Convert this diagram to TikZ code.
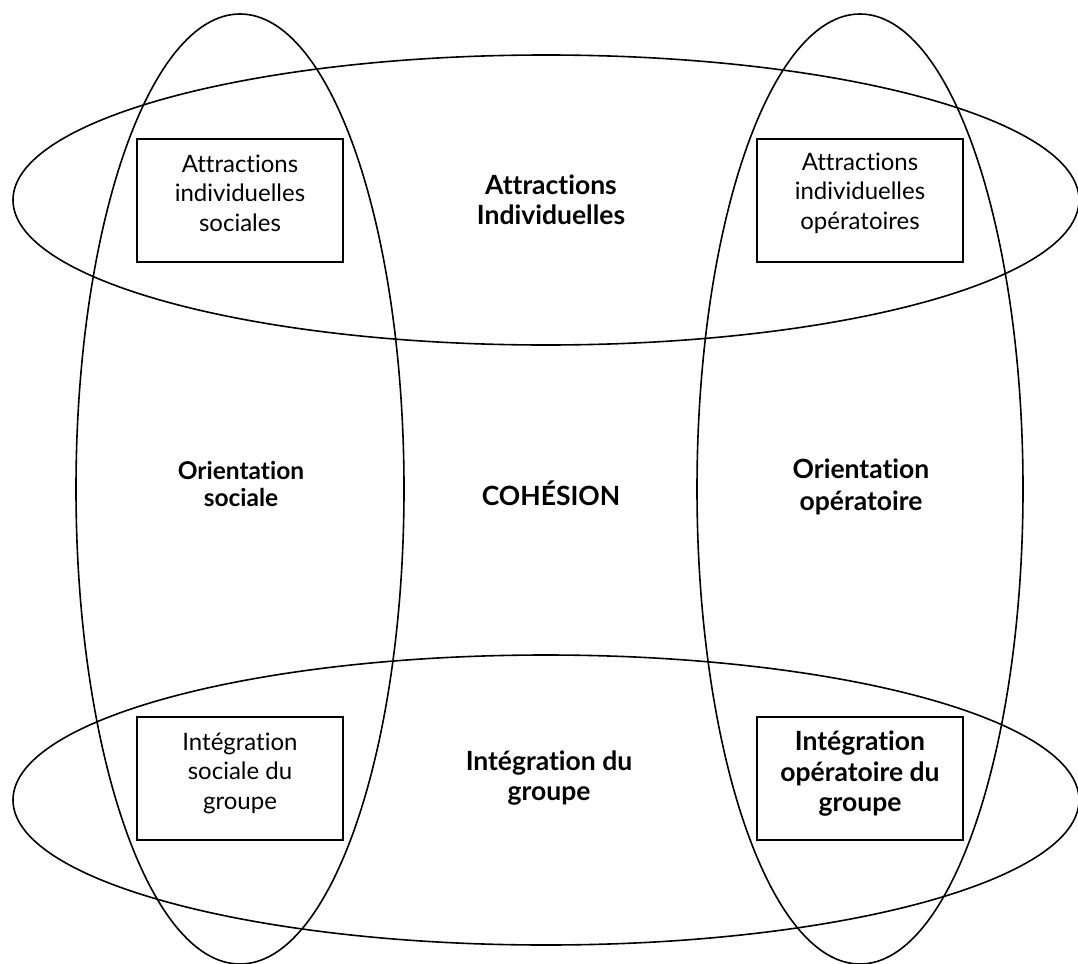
\documentclass[tikz,border=0pt]{standalone}
\usepackage{fontspec}
\setmainfont{Lato}[Ligatures={NoCommon}]
\usetikzlibrary{shapes.geometric}
\begin{document}
\begin{tikzpicture}[x=1pt,y=-1pt,
  ell/.style={draw, ellipse, line width=1.6pt, inner sep=0pt, outer sep=0pt},
  box/.style={draw, rectangle, line width=1.3pt, minimum width=206pt, minimum height=123pt, inner sep=0pt},
  txt/.style={align=center, inner sep=0pt, font=\fontsize{24}{29.5}\selectfont},
  btxt/.style={align=center, inner sep=0pt, font=\fontsize{26.5}{30.5}\selectfont\bfseries},
  sbtxt/.style={align=center, inner sep=0pt, font=\fontsize{24.5}{27.5}\selectfont\bfseries}]
\useasboundingbox (0,0) rectangle (1078,963);
% ellipses
\node[ell, minimum width=328pt, minimum height=950pt] (vleft) at (240,489) {};
\node[ell, minimum width=326pt, minimum height=950pt] (vright) at (860,489) {};
\node[ell, minimum width=1066pt, minimum height=290pt] (htop) at (546,200) {};
\node[ell, minimum width=1066pt, minimum height=290pt] (hbot) at (546,800) {};
% boxes
\node[box] (b1) at (240,200.5) {};
\node[box] (b2) at (860,200.5) {};
\node[box] (b3) at (240,778.5) {};
\node[box] (b4) at (860,778.5) {};
\node[txt] (b1t) at (240,193) {Attractions\\individuelles\\sociales};
\node[txt] (b2t) at (860,193) {Attractions\\individuelles\\opératoires};
\node[txt] (b3t) at (240,773) {Intégration\\sociale du\\groupe};
\node[btxt] (b4t) at (860,774) {Intégration\\opératoire du\\groupe};
% labels
\node[btxt] (lai) at (551,200) {Attractions\\Individuelles};
\node[sbtxt] (los) at (241,484) {Orientation\\sociale};
\node[btxt] (lco) at (551,493) {COHÉSION};
\node[btxt, font=\fontsize{26.5}{32}\selectfont\bfseries] (loo) at (861,487) {Orientation\\opératoire};
\node[btxt] (lig) at (549,778) {Intégration du\\groupe};
\end{tikzpicture}
\end{document}
